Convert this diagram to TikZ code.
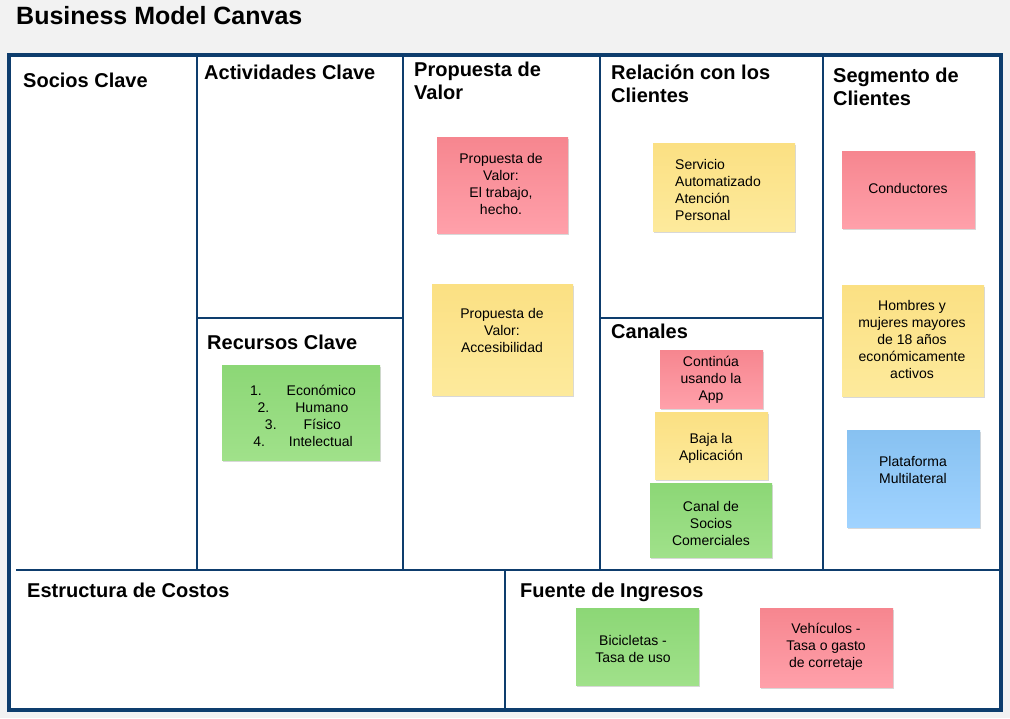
\documentclass[tikz,border=0pt]{standalone}
\usepackage{fontspec}
\setmainfont{Liberation Sans}
\usetikzlibrary{shadows}
\definecolor{bg}{HTML}{F2F2F2}
\definecolor{frame}{HTML}{0E3D6D}
\definecolor{pinkT}{HTML}{F6868F}
\definecolor{pinkB}{HTML}{FFA0AA}
\definecolor{yelT}{HTML}{FBE083}
\definecolor{yelB}{HTML}{FDEA9C}
\definecolor{grnT}{HTML}{8CD776}
\definecolor{grnB}{HTML}{A0E18A}
\definecolor{bluT}{HTML}{87C1F1}
\definecolor{bluB}{HTML}{A0D3FF}
\begin{document}
\begin{tikzpicture}[x=1pt,y=-1pt,
  hdr/.style={anchor=base west, font=\fontsize{20}{23}\selectfont\bfseries, align=left, inner sep=0pt},
  note/.style={draw=none, inner sep=0pt, drop shadow={shadow xshift=1.3pt, shadow yshift=-1.8pt, opacity=0.3}},
  pinknote/.style={note, top color=pinkT, bottom color=pinkB},
  yelnote/.style={note, top color=yelT, bottom color=yelB},
  grnnote/.style={note, top color=grnT, bottom color=grnB},
  blunote/.style={note, top color=bluT, bottom color=bluB},
  ntext/.style={font=\fontsize{14}{17}\selectfont, align=center, inner sep=0pt},
  divider/.style={draw=frame, line width=2pt},
]
\useasboundingbox (0,0) rectangle (1010,718);
\fill[bg] (0,0) rectangle (1010,718);

% title
\node[anchor=base west, inner sep=0pt, font=\fontsize{25}{28}\selectfont\bfseries] (title) at (16,24) {Business Model Canvas};

% frame
\filldraw[fill=white, draw=frame, line width=4pt] (8.5,55) rectangle (1001,710);
\draw[divider] (197,53) -- (197,570);
\draw[divider] (403,53) -- (403,570);
\draw[divider] (600,53) -- (600,570);
\draw[divider] (823,55) -- (823,570);
\draw[divider] (197,318) -- (403,318);
\draw[divider] (600,318) -- (823,318);
\draw[divider] (16,570) -- (1001,570);
\draw[divider] (505,570) -- (505,710);

% headers
\node[hdr] (h1) at (23,87) {Socios Clave};
\node[hdr] (h2) at (204,79) {Actividades Clave};
\node[hdr] (h3) at (414,99) {Propuesta de\\Valor};
\node[hdr] (h4) at (611,102) {Relación con los\\Clientes};
\node[hdr] (h5) at (833,105) {Segmento de\\Clientes};
\node[hdr] (h6) at (207,349) {Recursos Clave};
\node[hdr] (h7) at (611,338) {Canales};
\node[hdr] (h8) at (27,597) {Estructura de Costos};
\node[hdr] (h9) at (520,597) {Fuente de Ingresos};

% notes: propuesta de valor
\node[pinknote, minimum width=131pt, minimum height=96pt] (pv1) at (502.5,185) {};
\node[ntext] (pv1t) at (501,183.5) {Propuesta de\\Valor:\\El trabajo,\\hecho.};
\node[yelnote, minimum width=141pt, minimum height=111pt] (pv2) at (502.5,339.5) {};
\node[ntext] (pv2t) at (502,330) {Propuesta de\\Valor:\\Accesibilidad};

% relacion con clientes
\node[yelnote, minimum width=142pt, minimum height=88pt] (rc1) at (724,187) {};
\node[ntext, align=left, anchor=west] (rc1t) at (675,189.5) {Servicio\\Automatizado\\Atención\\Personal};

% canales
\node[pinknote, minimum width=103pt, minimum height=58pt] (ch1) at (711.5,379) {};
\node[ntext] (ch1t) at (711,380) {Continúa\\usando la\\App};
\node[yelnote, minimum width=113pt, minimum height=67pt] (ch2) at (711.5,445.5) {};
\node[ntext] (ch2t) at (711,448.5) {Baja la\\Aplicación};
\node[grnnote, minimum width=122pt, minimum height=74pt] (ch3) at (711,520) {};
\node[ntext] (ch3t) at (711,523) {Canal de\\Socios\\Comerciales};

% segmento de clientes
\node[pinknote, minimum width=133pt, minimum height=77pt] (cs1) at (908.5,189.5) {};
\node[ntext] (cs1t) at (908,188) {Conductores};
\node[yelnote, minimum width=142pt, minimum height=111pt] (cs2) at (913,340.5) {};
\node[ntext] (cs2t) at (912,339) {Hombres y\\mujeres mayores\\de 18 años\\económicamente\\activos};
\node[blunote, minimum width=133pt, minimum height=97pt] (cs3) at (913.5,478.5) {};
\node[ntext] (cs3t) at (913,469.5) {Plataforma\\Multilateral};

% recursos clave
\node[grnnote, minimum width=158pt, minimum height=95pt] (kr1) at (301,412.5) {};
\node[ntext] (kr1t) at (303,415.5) {1.\hspace{25pt}Económico\\2.\hspace{26pt}Humano\\3.\hspace{27pt}Físico\\4.\hspace{24pt}Intelectual};

% fuente de ingresos
\node[grnnote, minimum width=123pt, minimum height=77pt] (rs1) at (637.5,646.5) {};
\node[ntext] (rs1t) at (633,648.5) {Bicicletas -\\Tasa de uso};
\node[pinknote, minimum width=133pt, minimum height=79pt] (rs2) at (826.5,647.5) {};
\node[ntext] (rs2t) at (826,647) {Vehículos -\\Tasa o gasto\\de corretaje};
\end{tikzpicture}
\end{document}
